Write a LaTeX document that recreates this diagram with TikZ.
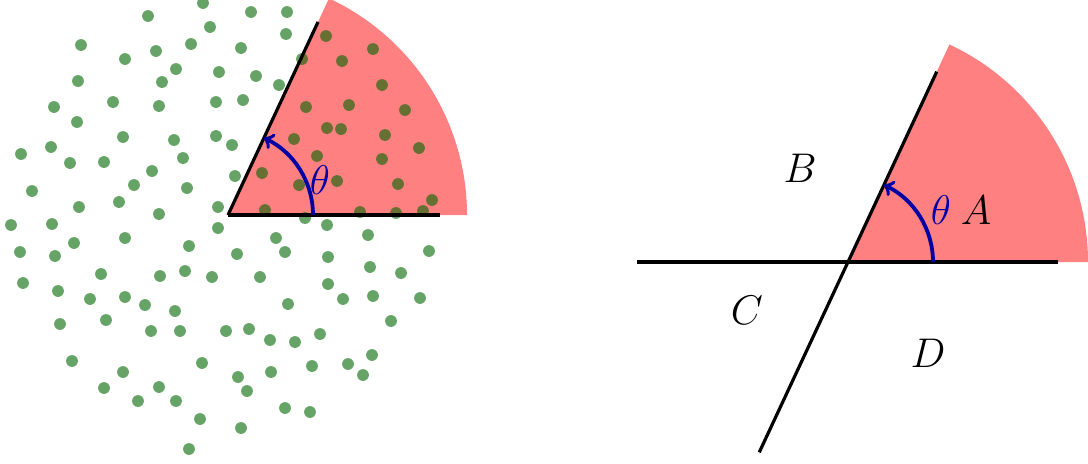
\documentclass[tikz,border=0pt]{standalone}
\usetikzlibrary{calc}
\definecolor{dotgreen}{RGB}{0,102,0}
\definecolor{arcblue}{RGB}{0,0,165}
\tikzset{
  sector/.style={fill=red!50, draw=none},
  dot/.style={fill=dotgreen, fill opacity=0.6, draw=none},
  axisline/.style={draw=black, line width=1.6pt},
  anglearc/.style={draw=arcblue, line width=1.9pt, ->},
  lbl/.style={font=\fontsize{21}{25}\selectfont, inner sep=0pt},
  thetalbl/.style={lbl, text=arcblue}
}
\begin{document}
\begin{tikzpicture}[x=0.5pt,y=0.5pt]
\useasboundingbox (0,0) rectangle (1088,463);
% ---------- left panel ----------
\coordinate (L) at (228,248);
\fill[sector] (L) -- ($(L)+(0:239)$) arc[start angle=0,end angle=65,radius=239] -- cycle;
\foreach \x/\y in {203/3,148/16,210/27,81/45,125/59,156/51,191/44,241/48,176/69,219/72,78/81,162/82,54/107,113/102,159/106,216/102,243/100,77/122,123/137,174/140,216/136,232/145,21/154,51/147,70/163,104/162,183/158,
251/12,287/12,286/34,302/59,256/76,279/85,
326/36,373/49,342/61,382/85,306/107,349/105,405/110,327/128,341/129,294/139,385/135,419/148,317/156,382/159,
152/171,32/191,134/185,187/188,235/176,79/207,119/202,159/214,218/207,11/225,52/224,218/228,74/243,125/238,189/246,20/252,55/256,237/254,101/274,160/276,185/271,212/277,23/283,58/291,90/299,125/297,145/305,175/311,
262/173,299/185,337/181,398/184,432/200,265/210,360/212,396/213,423/211,305/218,327/225,276/238,368/235,285/252,328/257,429/251,260/277,370/267,401/273,328/284,288/304,343/299,373/296,420/298,
60/324,106/320,151/331,180/331,226/331,72/361,202/363,123/372,238/377,104/388,159/387,138/401,176/401,200/419,241/428,189/449,
391/321,249/329,270/340,295/342,320/334,372/355,348/364,363/375,271/372,312/366,247/391,285/408,310/412}
  \fill[dot] (\x,{463-\y}) circle[radius=5.9];
\coordinate (Lx) at ($(L)+(0:212)$);
\coordinate (Ls) at ($(L)+(65:213)$);
\draw[axisline] (L) -- (Lx);
\draw[axisline] (L) -- (Ls);
\coordinate (La) at ($(L)+(0:85)$);
\draw[anglearc] (La) arc[start angle=0,end angle=65,radius=85];
\node[thetalbl] (thL) at (320,283) {$\theta$};
% ---------- right panel ----------
\coordinate (R) at (848,201);
\fill[sector] (R) -- ($(R)+(0:240)$) arc[start angle=0,end angle=65,radius=240] -- cycle;
\coordinate (Rw) at ($(R)+(180:211)$);
\coordinate (Re) at ($(R)+(0:210)$);
\coordinate (Rn) at ($(R)+(65:210)$);
\coordinate (Rs) at ($(R)+(245:210)$);
\draw[axisline] (Rw) -- (Re);
\draw[axisline] (Rs) -- (Rn);
\coordinate (Ra) at ($(R)+(0:85)$);
\draw[anglearc] (Ra) arc[start angle=0,end angle=65,radius=85];
\node[thetalbl] (thR) at (941,253) {$\theta$};
\node[lbl] (A) at (976,253) {$A$};
\node[lbl] (B) at (800,295) {$B$};
\node[lbl] (C) at (747,153) {$C$};
\node[lbl] (D) at (928,110) {$D$};
\end{tikzpicture}
\end{document}
